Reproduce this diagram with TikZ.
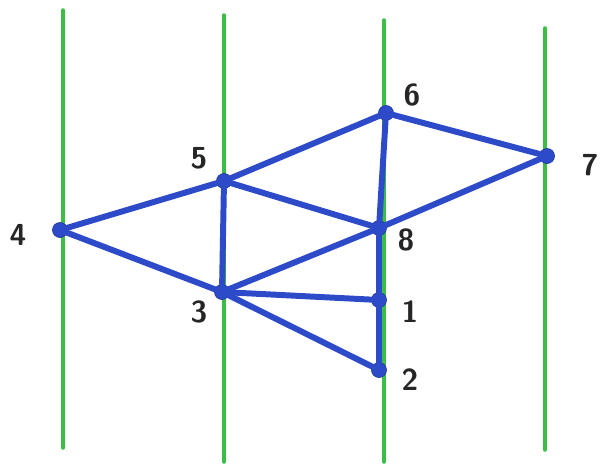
\documentclass[tikz,border=0pt]{standalone}
\usepackage{tikz}
\usetikzlibrary{positioning}

\definecolor{penGreen}{RGB}{60,190,70}
\definecolor{penBlue}{RGB}{45,75,200}

\begin{document}
\begin{tikzpicture}[
    x=0.02cm, y=-0.02cm,
    vtx/.style={circle, fill=penBlue, draw=penBlue!80!black, inner sep=0pt, minimum size=0.3cm},
    lbl/.style={font=\sffamily\bfseries\LARGE, text=black!85},
    edge/.style={penBlue, line width=3.4pt, line cap=round},
    rail/.style={penGreen, line width=2pt, line cap=round}
]
\useasboundingbox (0,0) rectangle (613,471);

% green rails
\coordinate (r1t) at (63,10);  \coordinate (r1b) at (63,448);
\coordinate (r2t) at (224,15); \coordinate (r2b) at (224,462);
\coordinate (r3t) at (384,20); \coordinate (r3b) at (384,462);
\coordinate (r4t) at (545,28); \coordinate (r4b) at (545,450);
\draw[rail] (r1t) -- (r1b);
\draw[rail] (r2t) -- (r2b);
\draw[rail] (r3t) -- (r3b);
\draw[rail] (r4t) -- (r4b);

% vertices
\node[vtx] (v4) at (60,230) {};
\node[vtx] (v5) at (224,181) {};
\node[vtx] (v3) at (222,292) {};
\node[vtx] (v6) at (386,113) {};
\node[vtx] (v8) at (379,228) {};
\node[vtx] (v1) at (379,300) {};
\node[vtx] (v2) at (379,370) {};
\node[vtx] (v7) at (547,156) {};

% labels
\node[lbl] (l4) at (18,235) {4};
\node[lbl] (l5) at (199,158) {5};
\node[lbl] (l3) at (199,312) {3};
\node[lbl] (l6) at (412,95) {6};
\node[lbl] (l8) at (406,240) {8};
\node[lbl] (l1) at (410,312) {1};
\node[lbl] (l2) at (410,380) {2};
\node[lbl] (l7) at (590,165) {7};

% edges
\draw[edge] (v4) -- (v5);
\draw[edge] (v4) -- (v3);
\draw[edge] (v5) -- (v3);
\draw[edge] (v5) -- (v6);
\draw[edge] (v5) -- (v8);
\draw[edge] (v6) -- (v7);
\draw[edge] (v6) -- (v8);
\draw[edge] (v8) -- (v7);
\draw[edge] (v3) -- (v8);
\draw[edge] (v3) -- (v1);
\draw[edge] (v3) -- (v2);
\draw[edge] (v8) -- (v1);
\draw[edge] (v1) -- (v2);
\end{tikzpicture}
\end{document}
